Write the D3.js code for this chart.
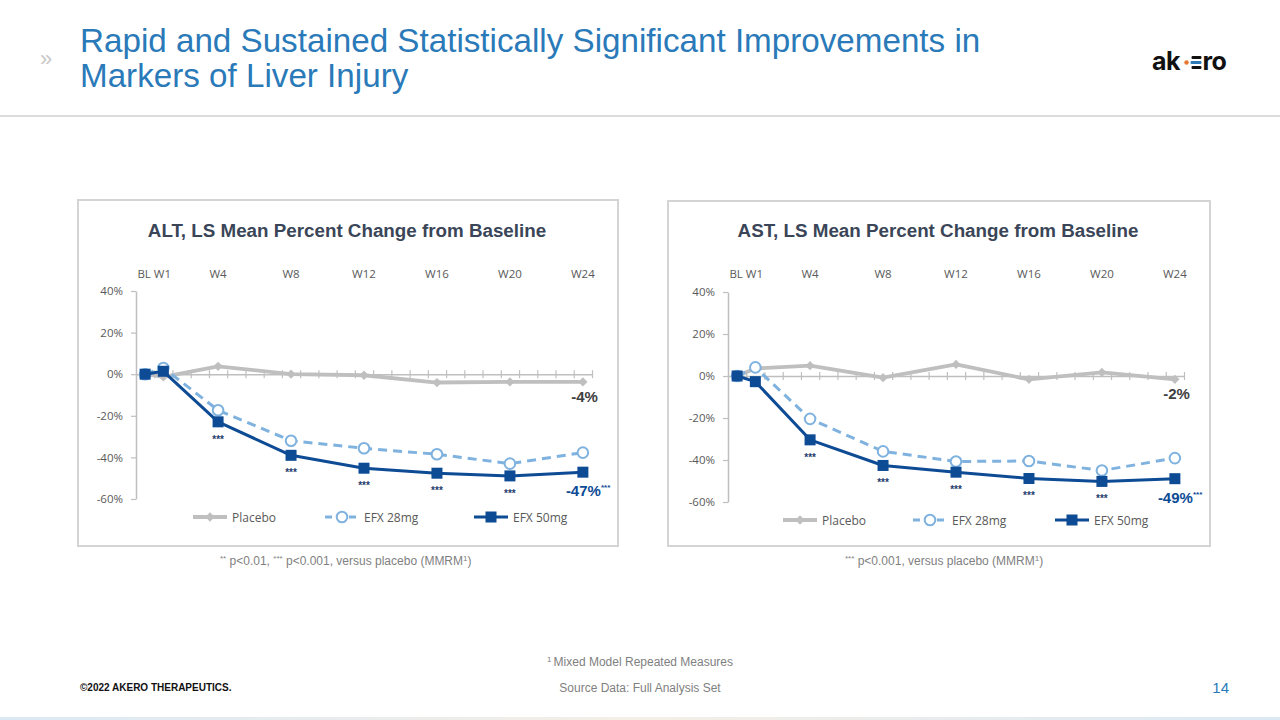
<!DOCTYPE html>
<html>
<head>
<meta charset="utf-8">
<script src="https://cdn.jsdelivr.net/npm/d3@7"></script>
<style>
  html, body { margin: 0; padding: 0; background: #ffffff; }
  svg { display: block; }
</style>
</head>
<body>
<script>
// ---------------- DATA ----------------
const weeks = [0, 1, 4, 8, 12, 16, 20, 24];
const weekCount = 25; // BL .. W24 weekly categories
const topLabels = ["BL W1", "W4", "W8", "W12", "W16", "W20", "W24"];
const topLabelWeeks = [0.5, 4, 8, 12, 16, 20, 24];
const yTicks = [40, 20, 0, -20, -40, -60];
const seriesNames = ["Placebo", "EFX 28mg", "EFX 50mg"];

const altPlacebo = [0, -1.3, 3.8, 0, -0.5, -4.0, -3.7, -3.7];
const altEfx28   = [0, 3.0, -17.3, -32.0, -35.6, -38.5, -43.0, -37.7];
const altEfx50   = [0, 1.4, -22.9, -39.0, -45.2, -47.6, -48.9, -47.1];

const astPlacebo = [0, 3.6, 4.9, -0.8, 5.5, -1.6, 1.7, -1.6];
const astEfx28   = [0, 4.1, -20.4, -35.9, -40.7, -40.5, -45.0, -39.1];
const astEfx50   = [0, -2.7, -30.4, -42.6, -45.8, -48.8, -50.2, -48.9];

const starWeeks = [4, 8, 12, 16, 20];

// ---------------- STYLE ----------------
const C = {
  placebo: "#bfbfbf",
  efx28: "#7fb2df",
  efx50: "#0d4b95",
  axis: "#bfbfbf",
  tick: "#595959",
  cardTitle: "#3a4658",
  title: "#2a7ab9",
  note: "#7f7f7f"
};
const narrow = "'Liberation Sans Narrow', 'Liberation Sans', Arial, sans-serif";
const sans = "'Liberation Sans', Arial, sans-serif";
const calib = "'Open Sans', 'Noto Sans', sans-serif";

const svg = d3.select("body").append("svg")
  .attr("width", 1280).attr("height", 720)
  .style("background", "#fff");

// ---------------- HEADER ----------------
svg.append("text").attr("x", 40).attr("y", 66)
  .attr("font-family", sans).attr("font-size", 22).attr("fill", "#c8c8c8")
  .text("»");

const titleText = svg.append("text")
  .attr("font-family", sans).attr("font-size", 33.2).attr("fill", C.title);
titleText.append("tspan").attr("x", 80).attr("y", 52)
  .text("Rapid and Sustained Statistically Significant Improvements in");
titleText.append("tspan").attr("x", 80).attr("y", 87)
  .text("Markers of Liver Injury");

svg.append("line").attr("x1", 0).attr("x2", 1280).attr("y1", 116).attr("y2", 116)
  .attr("stroke", "#dcdcdc").attr("stroke-width", 2);

// logo
const logo = svg.append("g").attr("transform", "translate(1152,0)");
logo.append("text").attr("x", 0).attr("y", 70)
  .attr("font-family", "Inter, 'Noto Sans', sans-serif").attr("font-weight", 700)
  .attr("font-size", 25).attr("fill", "#111").attr("letter-spacing", -0.5).text("ak");
logo.append("circle").attr("cx", 34.5).attr("cy", 62.5).attr("r", 2.2).attr("fill", "#e8772e");
[[57.5, "#111", 39.5], [62.5, "#2a7ab9", 38.5], [67.5, "#111", 39.5]].forEach(([yy, col, xx]) => {
  logo.append("rect").attr("x", xx).attr("y", yy - 1.4).attr("width", 49.5 - xx).attr("height", 2.8)
    .attr("rx", 1.2).attr("fill", col);
});
logo.append("text").attr("x", 50.5).attr("y", 70)
  .attr("font-family", "Inter, 'Noto Sans', sans-serif").attr("font-weight", 700)
  .attr("font-size", 25).attr("fill", "#111").attr("letter-spacing", -0.5).text("ro");

// ---------------- PANELS ----------------
const panels = [
  {
    title: "ALT, LS Mean Percent Change from Baseline",
    box: [78, 200, 540, 346],
    x0: 136, x1: 592, yTop: 291, yBot: 499,
    data: [altPlacebo, altEfx28, altEfx50],
    legendX: [210, 342, 491],
    legendY: 517,
    note: ["** p<0.01, ", "*** p<0.001, versus placebo (MMRM"],
    noteX: 220
  },
  {
    title: "AST, LS Mean Percent Change from Baseline",
    box: [668, 201, 542, 345],
    x0: 728, x1: 1184, yTop: 292, yBot: 502,
    data: [astPlacebo, astEfx28, astEfx50],
    legendX: [800, 930, 1072],
    legendY: 520,
    note: ["*** p<0.001, versus placebo (MMRM"],
    noteX: 845
  }
];

function marker(g, type, x, y) {
  if (type === 0) {
    g.append("path").attr("d", d3.symbol(d3.symbolDiamond2, 55)())
      .attr("transform", `translate(${x},${y})`).attr("fill", C.placebo);
  } else if (type === 1) {
    g.append("circle").attr("cx", x).attr("cy", y).attr("r", 5.3)
      .attr("fill", "#fff").attr("stroke", C.efx28).attr("stroke-width", 2);
  } else {
    g.append("rect").attr("x", x - 5.5).attr("y", y - 5.5).attr("width", 11).attr("height", 11)
      .attr("fill", C.efx50);
  }
}

panels.forEach(p => {
  const g = svg.append("g");
  const [bx, by, bw, bh] = p.box;
  g.append("rect").attr("x", bx).attr("y", by).attr("width", bw).attr("height", bh)
    .attr("fill", "#fff").attr("stroke", "#d4d4d4").attr("stroke-width", 2);

  g.append("text").attr("x", bx + bw / 2 - 1).attr("y", 237).attr("text-anchor", "middle")
    .attr("font-family", sans).attr("font-weight", 700).attr("font-size", 18.8)
    .attr("fill", C.cardTitle).text(p.title);

  const x = d3.scaleLinear().domain([-0.5, weekCount - 0.5]).range([p.x0, p.x1]);
  const y = d3.scaleLinear().domain([-60, 40]).range([p.yBot, p.yTop]);

  // top category labels
  g.selectAll(".tl").data(topLabels).join("text")
    .attr("x", (d, i) => x(topLabelWeeks[i])).attr("y", 278)
    .attr("text-anchor", "middle").attr("font-family", calib).attr("font-size", 11.5)
    .attr("fill", C.tick).text(d => d);

  // y axis
  const ya = g.append("g").attr("transform", `translate(${p.x0},0)`)
    .call(d3.axisLeft(y).tickValues(yTicks).tickSize(5).tickSizeOuter(0).tickPadding(8)
      .tickFormat(d => d + "%"));
  ya.select(".domain").attr("stroke", C.axis).attr("stroke-width", 1.5);
  ya.selectAll(".tick line").attr("stroke", C.axis).attr("stroke-width", 1.2);
  ya.selectAll(".tick text").attr("font-family", calib).attr("font-size", 11.5).attr("fill", C.tick);

  // x axis at 0% with cross ticks between weekly categories
  const xa = g.append("g").attr("transform", `translate(0,${y(0)})`)
    .call(d3.axisBottom(x).tickValues(d3.range(0.5, weekCount, 1)).tickSize(0).tickFormat(""));
  xa.select(".domain").attr("stroke", C.axis).attr("stroke-width", 1.5);
  xa.selectAll(".tick line").attr("y1", -4).attr("y2", 4)
    .attr("stroke", C.axis).attr("stroke-width", 1.2);

  // series
  const colors = [C.placebo, C.efx28, C.efx50];
  const widths = [3.8, 3, 3];
  const dashes = [null, "9,6", null];
  const line = d3.line().x((d, i) => x(weeks[i])).y(d => y(d));
  p.data.forEach((vals, si) => {
    g.append("path").datum(vals).attr("d", line).attr("fill", "none")
      .attr("stroke", colors[si]).attr("stroke-width", widths[si])
      .attr("stroke-dasharray", dashes[si]).attr("stroke-linejoin", "round");
    vals.forEach((v, i) => marker(g, si, x(weeks[i]), y(v)));
  });

  // significance stars under EFX 50mg
  const e50 = p.data[2];
  starWeeks.forEach(w => {
    const i = weeks.indexOf(w);
    g.append("text").attr("x", x(w)).attr("y", y(e50[i]) + 21).attr("text-anchor", "middle")
      .attr("font-family", sans).attr("font-size", 10).attr("font-weight", 700)
      .attr("fill", "#1f3d6d").text("***");
  });

  // end labels
  const last = weeks.length - 1;
  const xe = x(weeks[last]);
  g.append("text").attr("x", xe + 15).attr("y", y(p.data[0][last]) + 20)
    .attr("text-anchor", "end").attr("font-family", sans).attr("font-weight", 700)
    .attr("font-size", 15).attr("fill", "#404040")
    .text(Math.round(p.data[0][last]) + "%");
  const l50 = g.append("text").attr("x", xe - 17).attr("y", y(e50[last]) + 24)
    .attr("font-family", sans).attr("font-weight", 700).attr("font-size", 15).attr("fill", C.efx50);
  l50.append("tspan").text(Math.round(e50[last]) + "%");
  l50.append("tspan").attr("dy", -6).attr("font-size", 8).text("***");

  // legend
  seriesNames.forEach((name, si) => {
    const lx = p.legendX[si], ly = p.legendY;
    g.append("line").attr("x1", lx - 17).attr("x2", lx + 17).attr("y1", ly).attr("y2", ly)
      .attr("stroke", colors[si]).attr("stroke-width", widths[si])
      .attr("stroke-dasharray", dashes[si] ? "7,5" : null);
    marker(g, si, lx, ly);
    g.append("text").attr("x", lx + 22).attr("y", ly + 4.5)
      .attr("font-family", calib).attr("font-size", 12).attr("fill", C.tick).text(name);
  });

  // footnote
  const nt = svg.append("text").attr("x", p.noteX).attr("y", 565)
    .attr("font-family", narrow).attr("font-size", 12).attr("fill", C.note);
  p.note.forEach(s => {
    const m = s.match(/^(\*+)(.*)$/);
    nt.append("tspan").attr("font-size", 8).attr("dy", -4).text(m[1]);
    nt.append("tspan").attr("dy", 4).text(m[2]);
  });
  nt.append("tspan").attr("font-size", 8).attr("dy", -4).text("1");
  nt.append("tspan").attr("dy", 4).text(")");
});

// ---------------- FOOTER ----------------
const fn = svg.append("text").attr("x", 640).attr("y", 666).attr("text-anchor", "middle")
  .attr("font-family", narrow).attr("font-size", 12).attr("fill", C.note);
fn.append("tspan").attr("font-size", 8).attr("dy", -4).text("1 ");
fn.append("tspan").attr("dy", 4).text("Mixed Model Repeated Measures");

svg.append("text").attr("x", 640).attr("y", 692).attr("text-anchor", "middle")
  .attr("font-family", narrow).attr("font-size", 12).attr("fill", C.note)
  .text("Source Data: Full Analysis Set");

svg.append("text").attr("x", 80).attr("y", 691)
  .attr("font-family", narrow).attr("font-weight", 700).attr("font-size", 10).attr("fill", "#111")
  .text("©2022 AKERO THERAPEUTICS.");

svg.append("text").attr("x", 1229).attr("y", 693).attr("text-anchor", "end")
  .attr("font-family", narrow).attr("font-size", 15).attr("fill", C.title).text("14");

const grad = svg.append("defs").append("linearGradient").attr("id", "bar");
grad.append("stop").attr("offset", "0%").attr("stop-color", "#dbe9f5");
grad.append("stop").attr("offset", "50%").attr("stop-color", "#f4efe6");
grad.append("stop").attr("offset", "100%").attr("stop-color", "#dbe9f5");
svg.append("rect").attr("x", 0).attr("y", 717).attr("width", 1280).attr("height", 3)
  .attr("fill", "url(#bar)");
</script>
</body>
</html>
